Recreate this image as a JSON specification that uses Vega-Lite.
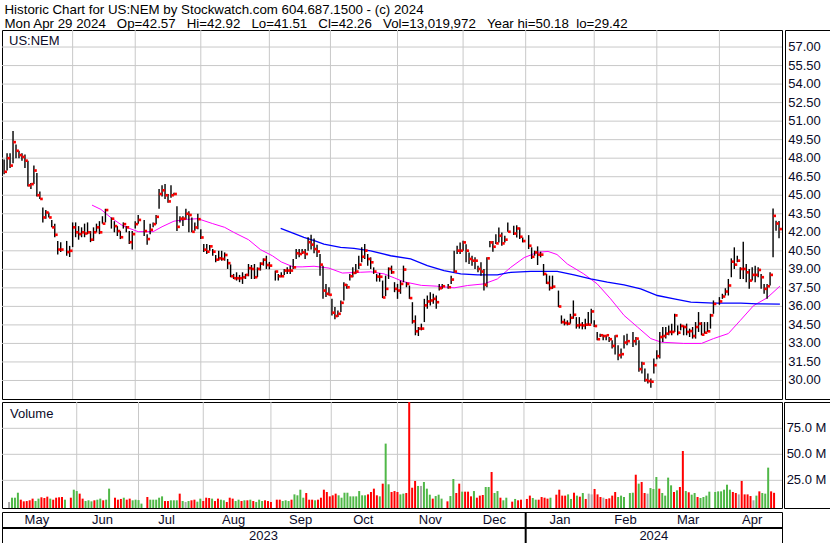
{
"$schema": "https://vega.github.io/schema/vega-lite/v6.json",
"padding": {"left": 0, "top": 3, "right": 0, "bottom": 0},
"background": "white",
"title": {"text": ["Historic Chart for US:NEM by Stockwatch.com 604.687.1500 - (c) 2024", "Mon Apr 29 2024\u00a0\u00a0\u00a0Op=42.57\u00a0\u00a0\u00a0Hi=42.92\u00a0\u00a0\u00a0Lo=41.51\u00a0\u00a0\u00a0Cl=42.26\u00a0\u00a0\u00a0Vol=13,019,972\u00a0\u00a0\u00a0Year hi=50.18\u00a0\u00a0lo=29.42"], "anchor": "start", "frame": "bounds", "font": "Liberation Sans", "fontSize": 13.3, "fontWeight": "normal", "color": "black", "lineHeight": 14, "offset": -1.5, "dx": 4},
"datasets": {
"bars": [
{"i":0,"h":47.9,"l":46.7,"c":46.9,"v":4.2,"d":"n"},
{"i":1,"h":48.4,"l":47.0,"c":48.0,"v":8.3,"d":"u"},
{"i":2,"h":48.4,"l":47.2,"c":47.4,"v":8.3,"d":"u"},
{"i":3,"h":50.2,"l":47.6,"c":49.3,"v":13.1,"d":"u"},
{"i":4,"h":49.1,"l":48.0,"c":48.6,"v":6.4,"d":"d"},
{"i":5,"h":48.6,"l":48.0,"c":48.25,"v":4.8,"d":"d"},
{"i":6,"h":48.4,"l":47.8,"c":48.1,"v":5.1,"d":"d"},
{"i":7,"h":48.3,"l":47.2,"c":47.8,"v":5.8,"d":"d"},
{"i":8,"h":47.8,"l":45.7,"c":45.8,"v":7.4,"d":"d"},
{"i":9,"h":46.0,"l":45.5,"c":45.9,"v":5.1,"d":"u"},
{"i":10,"h":47.4,"l":45.9,"c":47.0,"v":7.4,"d":"u"},
{"i":11,"h":46.8,"l":44.9,"c":45.0,"v":8.7,"d":"d"},
{"i":12,"h":45.3,"l":44.7,"c":44.7,"v":8.0,"d":"d"},
{"i":13,"h":44.0,"l":42.8,"c":43.2,"v":9.3,"d":"d"},
{"i":14,"h":43.8,"l":43.1,"c":43.6,"v":7.4,"d":"u"},
{"i":15,"h":43.6,"l":43.2,"c":43.2,"v":6.4,"d":"d"},
{"i":16,"h":43.0,"l":42.4,"c":42.4,"v":8.3,"d":"d"},
{"i":17,"h":42.7,"l":41.6,"c":41.8,"v":8.7,"d":"d"},
{"i":18,"h":41.3,"l":40.2,"c":40.6,"v":9.0,"d":"d"},
{"i":19,"h":41.2,"l":40.4,"c":40.6,"v":6.4,"d":"u"},
{"i":21,"h":41.3,"l":40.1,"c":40.4,"v":8.3,"d":"d"},
{"i":22,"h":40.9,"l":40.0,"c":40.5,"v":16.0,"d":"u"},
{"i":23,"h":42.8,"l":40.8,"c":42.4,"v":14.7,"d":"u"},
{"i":24,"h":42.8,"l":41.6,"c":42.0,"v":12.2,"d":"d"},
{"i":25,"h":42.5,"l":41.4,"c":41.85,"v":7.4,"d":"d"},
{"i":26,"h":42.4,"l":41.6,"c":42.0,"v":5.1,"d":"u"},
{"i":27,"h":42.7,"l":41.6,"c":41.9,"v":5.8,"d":"u"},
{"i":28,"h":42.8,"l":41.85,"c":42.0,"v":4.8,"d":"u"},
{"i":29,"h":42.1,"l":41.2,"c":41.4,"v":5.8,"d":"d"},
{"i":30,"h":42.4,"l":41.3,"c":42.0,"v":6.4,"d":"u"},
{"i":31,"h":42.7,"l":42.0,"c":42.4,"v":7.4,"d":"u"},
{"i":32,"h":42.9,"l":41.85,"c":42.0,"v":5.8,"d":"d"},
{"i":33,"h":43.3,"l":42.7,"c":42.7,"v":6.4,"d":"u"},
{"i":34,"h":43.9,"l":42.8,"c":43.8,"v":17.0,"d":"u"},
{"i":36,"h":43.2,"l":42.3,"c":43.1,"v":8.3,"d":"d"},
{"i":37,"h":42.9,"l":42.0,"c":42.5,"v":6.4,"d":"d"},
{"i":38,"h":42.5,"l":41.7,"c":42.1,"v":7.1,"d":"d"},
{"i":39,"h":42.1,"l":41.45,"c":41.6,"v":8.3,"d":"u"},
{"i":40,"h":42.8,"l":42.3,"c":42.66,"v":6.4,"d":"d"},
{"i":41,"h":42.5,"l":42.0,"c":42.4,"v":7.4,"d":"d"},
{"i":42,"h":42.1,"l":41.05,"c":41.2,"v":5.8,"d":"u"},
{"i":43,"h":42.1,"l":40.6,"c":41.85,"v":6.4,"d":"u"},
{"i":44,"h":42.9,"l":42.3,"c":42.66,"v":6.0,"d":"u"},
{"i":45,"h":43.4,"l":42.7,"c":43.0,"v":2.6,"d":"u"},
{"i":47,"h":43.0,"l":41.7,"c":42.1,"v":9.0,"d":"d"},
{"i":48,"h":41.85,"l":41.0,"c":41.45,"v":6.4,"d":"u"},
{"i":49,"h":42.7,"l":41.85,"c":42.2,"v":6.4,"d":"u"},
{"i":50,"h":42.8,"l":42.4,"c":42.66,"v":6.4,"d":"u"},
{"i":51,"h":43.4,"l":42.66,"c":43.25,"v":8.3,"d":"u"},
{"i":52,"h":45.5,"l":43.9,"c":45.1,"v":9.6,"d":"u"},
{"i":53,"h":45.8,"l":44.9,"c":45.4,"v":5.1,"d":"d"},
{"i":54,"h":45.9,"l":44.7,"c":45.0,"v":5.1,"d":"d"},
{"i":55,"h":45.1,"l":44.4,"c":44.5,"v":5.8,"d":"u"},
{"i":56,"h":45.8,"l":44.8,"c":45.0,"v":5.8,"d":"u"},
{"i":57,"h":45.2,"l":45.0,"c":45.1,"v":5.8,"d":"u"},
{"i":58,"h":44.1,"l":42.1,"c":42.44,"v":12.2,"d":"d"},
{"i":59,"h":43.3,"l":42.8,"c":43.1,"v":5.1,"d":"u"},
{"i":60,"h":43.3,"l":42.5,"c":43.1,"v":4.2,"d":"n"},
{"i":61,"h":43.9,"l":43.06,"c":43.5,"v":5.1,"d":"u"},
{"i":62,"h":43.7,"l":42.0,"c":43.4,"v":5.8,"d":"d"},
{"i":63,"h":43.2,"l":42.0,"c":42.04,"v":6.4,"d":"d"},
{"i":64,"h":42.8,"l":42.12,"c":42.39,"v":4.5,"d":"u"},
{"i":65,"h":43.5,"l":42.25,"c":43.06,"v":7.4,"d":"u"},
{"i":66,"h":42.25,"l":41.45,"c":41.58,"v":5.1,"d":"d"},
{"i":67,"h":41.05,"l":40.4,"c":40.59,"v":8.3,"d":"d"},
{"i":68,"h":41.05,"l":40.24,"c":40.43,"v":8.0,"d":"d"},
{"i":69,"h":40.97,"l":40.51,"c":40.86,"v":7.4,"d":"u"},
{"i":70,"h":40.64,"l":40.1,"c":40.43,"v":5.1,"d":"d"},
{"i":71,"h":40.16,"l":39.57,"c":39.78,"v":7.4,"d":"d"},
{"i":72,"h":40.5,"l":39.7,"c":39.89,"v":6.4,"d":"u"},
{"i":73,"h":40.5,"l":39.7,"c":39.84,"v":5.8,"d":"u"},
{"i":74,"h":40.37,"l":39.7,"c":40.16,"v":4.2,"d":"d"},
{"i":75,"h":39.84,"l":39.03,"c":39.5,"v":8.3,"d":"d"},
{"i":76,"h":39.4,"l":38.36,"c":38.44,"v":7.4,"d":"d"},
{"i":77,"h":38.63,"l":38.22,"c":38.28,"v":5.1,"d":"u"},
{"i":78,"h":38.76,"l":38.09,"c":38.28,"v":6.4,"d":"u"},
{"i":79,"h":38.55,"l":37.96,"c":38.28,"v":5.1,"d":"d"},
{"i":80,"h":38.76,"l":37.82,"c":38.36,"v":5.8,"d":"u"},
{"i":81,"h":38.63,"l":38.22,"c":38.55,"v":5.8,"d":"d"},
{"i":82,"h":39.43,"l":38.44,"c":39.09,"v":6.4,"d":"u"},
{"i":83,"h":39.35,"l":38.22,"c":39.03,"v":5.1,"d":"d"},
{"i":84,"h":39.43,"l":38.22,"c":38.36,"v":4.2,"d":"u"},
{"i":85,"h":39.16,"l":38.36,"c":39.03,"v":6.4,"d":"u"},
{"i":86,"h":39.57,"l":38.9,"c":39.46,"v":5.1,"d":"u"},
{"i":87,"h":39.89,"l":39.3,"c":39.78,"v":5.8,"d":"d"},
{"i":88,"h":40.1,"l":39.03,"c":39.35,"v":5.1,"d":"d"},
{"i":89,"h":39.6,"l":39.0,"c":39.3,"v":4.2,"d":"d"},
{"i":91,"h":38.9,"l":38.09,"c":38.82,"v":6.4,"d":"d"},
{"i":92,"h":38.63,"l":38.09,"c":38.44,"v":6.4,"d":"d"},
{"i":93,"h":38.76,"l":38.36,"c":38.44,"v":5.1,"d":"u"},
{"i":94,"h":39.03,"l":38.55,"c":38.9,"v":5.8,"d":"u"},
{"i":95,"h":39.16,"l":38.63,"c":38.9,"v":5.1,"d":"u"},
{"i":96,"h":39.3,"l":38.63,"c":38.9,"v":6.4,"d":"d"},
{"i":97,"h":39.84,"l":39.03,"c":39.16,"v":11.5,"d":"u"},
{"i":98,"h":40.64,"l":39.84,"c":40.3,"v":10.6,"d":"u"},
{"i":99,"h":40.64,"l":39.97,"c":40.24,"v":16.0,"d":"u"},
{"i":100,"h":40.64,"l":40.24,"c":40.37,"v":8.3,"d":"u"},
{"i":101,"h":40.64,"l":39.84,"c":40.24,"v":12.8,"d":"d"},
{"i":102,"h":41.6,"l":40.5,"c":41.2,"v":6.4,"d":"d"},
{"i":103,"h":41.8,"l":40.6,"c":41.0,"v":6.4,"d":"d"},
{"i":104,"h":41.5,"l":40.3,"c":40.64,"v":5.8,"d":"u"},
{"i":105,"h":41.0,"l":40.0,"c":40.45,"v":6.4,"d":"d"},
{"i":106,"h":40.24,"l":38.49,"c":39.38,"v":8.3,"d":"d"},
{"i":107,"h":39.3,"l":36.61,"c":37.28,"v":16.0,"d":"d"},
{"i":108,"h":37.82,"l":36.75,"c":37.02,"v":13.8,"d":"d"},
{"i":109,"h":37.55,"l":36.88,"c":36.94,"v":9.6,"d":"d"},
{"i":110,"h":36.61,"l":35.27,"c":35.49,"v":10.6,"d":"d"},
{"i":111,"h":35.94,"l":34.95,"c":35.22,"v":12.2,"d":"d"},
{"i":112,"h":35.67,"l":35.13,"c":35.4,"v":10.6,"d":"u"},
{"i":113,"h":36.48,"l":35.54,"c":36.29,"v":8.3,"d":"u"},
{"i":114,"h":37.96,"l":36.48,"c":37.74,"v":13.1,"d":"u"},
{"i":115,"h":37.82,"l":37.42,"c":37.55,"v":13.1,"d":"u"},
{"i":116,"h":38.63,"l":38.09,"c":38.44,"v":9.6,"d":"u"},
{"i":117,"h":39.16,"l":38.36,"c":38.71,"v":9.6,"d":"u"},
{"i":118,"h":39.43,"l":38.63,"c":38.82,"v":9.6,"d":"u"},
{"i":119,"h":40.1,"l":39.03,"c":39.38,"v":14.7,"d":"u"},
{"i":120,"h":40.78,"l":39.57,"c":40.02,"v":10.6,"d":"u"},
{"i":121,"h":41.05,"l":39.84,"c":40.51,"v":10.6,"d":"u"},
{"i":122,"h":40.24,"l":39.3,"c":39.84,"v":11.5,"d":"d"},
{"i":123,"h":39.97,"l":39.03,"c":39.57,"v":13.8,"d":"d"},
{"i":124,"h":39.16,"l":38.63,"c":38.82,"v":17.0,"d":"d"},
{"i":125,"h":38.63,"l":38.01,"c":38.41,"v":10.6,"d":"d"},
{"i":126,"h":38.7,"l":38.0,"c":38.4,"v":9.6,"d":"u"},
{"i":127,"h":38.09,"l":36.67,"c":36.72,"v":21.8,"d":"d"},
{"i":128,"h":38.49,"l":36.83,"c":37.42,"v":60.3,"d":"u"},
{"i":129,"h":39.16,"l":38.22,"c":39.03,"v":21.2,"d":"u"},
{"i":130,"h":39.3,"l":38.63,"c":38.76,"v":13.8,"d":"d"},
{"i":131,"h":37.96,"l":37.15,"c":37.42,"v":14.7,"d":"d"},
{"i":132,"h":37.82,"l":36.61,"c":37.28,"v":13.8,"d":"d"},
{"i":133,"h":38.09,"l":37.02,"c":37.82,"v":11.5,"d":"u"},
{"i":134,"h":39.3,"l":37.96,"c":38.98,"v":12.2,"d":"u"},
{"i":135,"h":37.96,"l":37.55,"c":37.82,"v":12.8,"d":"d"},
{"i":136,"h":37.69,"l":36.61,"c":36.67,"v":101,"d":"d"},
{"i":137,"h":36.34,"l":34.6,"c":34.79,"v":17.9,"d":"d"},
{"i":138,"h":35.27,"l":33.66,"c":33.98,"v":24.4,"d":"d"},
{"i":139,"h":34.33,"l":33.6,"c":34.2,"v":19.6,"d":"u"},
{"i":140,"h":34.6,"l":34.06,"c":34.2,"v":19.6,"d":"n"},
{"i":141,"h":36.61,"l":34.73,"c":36.08,"v":23.4,"d":"u"},
{"i":142,"h":36.88,"l":35.81,"c":36.4,"v":17.0,"d":"u"},
{"i":143,"h":37.15,"l":36.08,"c":36.48,"v":11.2,"d":"u"},
{"i":144,"h":37.02,"l":36.21,"c":36.61,"v":7.4,"d":"d"},
{"i":145,"h":36.88,"l":35.81,"c":36.34,"v":9.9,"d":"u"},
{"i":146,"h":37.82,"l":37.28,"c":37.47,"v":11.2,"d":"u"},
{"i":147,"h":37.82,"l":37.42,"c":37.63,"v":7.4,"d":"u"},
{"i":149,"h":37.82,"l":37.42,"c":37.55,"v":4.8,"d":"d"},
{"i":150,"h":38.49,"l":37.82,"c":38.17,"v":9.9,"d":"u"},
{"i":151,"h":40.51,"l":38.76,"c":38.82,"v":26.3,"d":"u"},
{"i":152,"h":40.91,"l":40.24,"c":40.51,"v":12.8,"d":"d"},
{"i":153,"h":41.18,"l":40.24,"c":40.51,"v":21.8,"d":"d"},
{"i":154,"h":41.31,"l":40.51,"c":41.18,"v":14.1,"d":"u"},
{"i":155,"h":41.04,"l":39.57,"c":40.51,"v":14.1,"d":"d"},
{"i":156,"h":40.37,"l":39.43,"c":39.84,"v":14.1,"d":"d"},
{"i":157,"h":40.1,"l":39.3,"c":39.7,"v":9.6,"d":"d"},
{"i":158,"h":39.97,"l":39.03,"c":39.7,"v":14.7,"d":"u"},
{"i":159,"h":39.3,"l":38.76,"c":39.03,"v":8.3,"d":"d"},
{"i":160,"h":39.57,"l":38.49,"c":38.82,"v":10.3,"d":"d"},
{"i":161,"h":39.03,"l":37.28,"c":37.74,"v":10.9,"d":"d"},
{"i":162,"h":39.97,"l":37.55,"c":39.89,"v":18.6,"d":"u"},
{"i":163,"h":41.3,"l":40.78,"c":41.18,"v":18.6,"d":"u"},
{"i":164,"h":41.3,"l":40.43,"c":40.83,"v":33.0,"d":"d"},
{"i":165,"h":41.85,"l":41.05,"c":41.1,"v":12.8,"d":"u"},
{"i":166,"h":42.39,"l":41.18,"c":41.72,"v":14.7,"d":"u"},
{"i":167,"h":41.99,"l":40.91,"c":41.1,"v":8.3,"d":"d"},
{"i":168,"h":41.72,"l":41.18,"c":41.4,"v":5.8,"d":"u"},
{"i":169,"h":42.79,"l":42.04,"c":42.04,"v":8.3,"d":"u"},
{"i":171,"h":42.52,"l":41.77,"c":41.9,"v":4.5,"d":"d"},
{"i":172,"h":42.57,"l":41.58,"c":42.31,"v":7.1,"d":"u"},
{"i":173,"h":42.39,"l":41.45,"c":41.64,"v":5.8,"d":"d"},
{"i":174,"h":41.58,"l":41.18,"c":41.29,"v":6.4,"d":"d"},
{"i":176,"h":41.77,"l":40.64,"c":40.91,"v":7.1,"d":"d"},
{"i":177,"h":40.78,"l":39.84,"c":40.02,"v":10.3,"d":"d"},
{"i":178,"h":40.51,"l":40.1,"c":40.37,"v":8.0,"d":"u"},
{"i":179,"h":40.86,"l":39.35,"c":40.19,"v":6.4,"d":"u"},
{"i":180,"h":40.43,"l":39.97,"c":40.19,"v":6.4,"d":"d"},
{"i":181,"h":39.43,"l":38.49,"c":38.63,"v":9.0,"d":"d"},
{"i":182,"h":38.63,"l":37.82,"c":37.9,"v":8.3,"d":"d"},
{"i":183,"h":38.49,"l":37.28,"c":37.5,"v":7.4,"d":"d"},
{"i":184,"h":38.49,"l":37.42,"c":37.6,"v":8.3,"d":"u"},
{"i":186,"h":37.28,"l":35.94,"c":35.99,"v":11.2,"d":"d"},
{"i":187,"h":35.27,"l":34.6,"c":34.73,"v":16.0,"d":"d"},
{"i":188,"h":35.0,"l":34.46,"c":34.65,"v":10.3,"d":"d"},
{"i":189,"h":34.87,"l":34.46,"c":34.6,"v":10.3,"d":"d"},
{"i":190,"h":35.4,"l":34.6,"c":35.08,"v":11.5,"d":"u"},
{"i":191,"h":36.48,"l":35.0,"c":35.32,"v":7.1,"d":"u"},
{"i":192,"h":35.13,"l":34.2,"c":34.46,"v":13.1,"d":"d"},
{"i":193,"h":35.13,"l":34.2,"c":34.5,"v":10.3,"d":"u"},
{"i":194,"h":34.73,"l":34.14,"c":34.46,"v":9.3,"d":"d"},
{"i":195,"h":35.0,"l":34.14,"c":34.52,"v":12.8,"d":"u"},
{"i":196,"h":35.54,"l":34.46,"c":34.52,"v":7.1,"d":"d"},
{"i":197,"h":35.81,"l":34.6,"c":35.59,"v":12.2,"d":"n"},
{"i":198,"h":34.87,"l":34.33,"c":34.41,"v":11.5,"d":"n"},
{"i":199,"h":33.93,"l":33.26,"c":33.34,"v":16.7,"d":"d"},
{"i":200,"h":33.79,"l":33.52,"c":33.66,"v":11.5,"d":"d"},
{"i":201,"h":33.71,"l":33.26,"c":33.6,"v":9.0,"d":"d"},
{"i":202,"h":33.66,"l":33.26,"c":33.66,"v":8.3,"d":"n"},
{"i":203,"h":33.52,"l":33.12,"c":33.34,"v":7.1,"d":"d"},
{"i":204,"h":33.26,"l":32.58,"c":32.8,"v":7.7,"d":"d"},
{"i":205,"h":33.66,"l":32.1,"c":33.6,"v":10.3,"d":"d"},
{"i":206,"h":32.85,"l":31.64,"c":32.05,"v":13.8,"d":"d"},
{"i":207,"h":32.58,"l":31.78,"c":32.13,"v":9.0,"d":"u"},
{"i":208,"h":33.66,"l":32.58,"c":33.07,"v":10.3,"d":"u"},
{"i":209,"h":33.79,"l":32.85,"c":33.18,"v":9.0,"d":"u"},
{"i":211,"h":33.93,"l":32.72,"c":33.18,"v":12.8,"d":"u"},
{"i":212,"h":33.52,"l":32.85,"c":33.39,"v":13.1,"d":"u"},
{"i":213,"h":33.26,"l":30.7,"c":30.92,"v":30.4,"d":"d"},
{"i":214,"h":31.51,"l":30.57,"c":31.37,"v":21.8,"d":"u"},
{"i":215,"h":30.97,"l":29.9,"c":30.03,"v":23.4,"d":"d"},
{"i":216,"h":30.57,"l":29.76,"c":29.95,"v":12.8,"d":"d"},
{"i":217,"h":30.17,"l":29.42,"c":29.9,"v":12.2,"d":"n"},
{"i":218,"h":31.78,"l":30.57,"c":31.24,"v":17.6,"d":"u"},
{"i":219,"h":32.45,"l":31.72,"c":31.97,"v":16.7,"d":"u"},
{"i":220,"h":33.93,"l":31.78,"c":33.52,"v":28.2,"d":"u"},
{"i":221,"h":34.33,"l":33.12,"c":33.6,"v":17.0,"d":"d"},
{"i":222,"h":34.33,"l":33.39,"c":33.79,"v":12.8,"d":"u"},
{"i":223,"h":34.46,"l":33.66,"c":33.93,"v":10.3,"d":"u"},
{"i":224,"h":34.6,"l":33.66,"c":33.93,"v":27.6,"d":"u"},
{"i":225,"h":35.4,"l":33.93,"c":35.27,"v":20.2,"d":"u"},
{"i":226,"h":34.46,"l":33.66,"c":33.87,"v":13.8,"d":"d"},
{"i":227,"h":34.6,"l":34.06,"c":34.41,"v":15.4,"d":"u"},
{"i":228,"h":34.46,"l":33.66,"c":34.33,"v":18.6,"d":"d"},
{"i":229,"h":34.6,"l":33.66,"c":33.93,"v":53.2,"d":"d"},
{"i":230,"h":34.2,"l":33.52,"c":34.0,"v":14.7,"d":"u"},
{"i":231,"h":34.33,"l":33.39,"c":33.6,"v":13.5,"d":"d"},
{"i":232,"h":34.73,"l":33.39,"c":34.33,"v":11.2,"d":"u"},
{"i":233,"h":35.54,"l":33.93,"c":34.6,"v":12.8,"d":"u"},
{"i":234,"h":34.73,"l":33.66,"c":33.71,"v":9.0,"d":"d"},
{"i":235,"h":34.73,"l":33.79,"c":33.87,"v":8.0,"d":"u"},
{"i":236,"h":34.73,"l":33.93,"c":33.98,"v":9.0,"d":"u"},
{"i":237,"h":35.4,"l":34.2,"c":35.27,"v":10.3,"d":"u"},
{"i":238,"h":36.48,"l":35.4,"c":36.2,"v":14.1,"d":"u"},
{"i":240,"h":36.75,"l":36.13,"c":36.4,"v":13.8,"d":"u"},
{"i":241,"h":37.02,"l":36.61,"c":36.8,"v":14.4,"d":"u"},
{"i":242,"h":37.47,"l":36.88,"c":37.2,"v":14.4,"d":"u"},
{"i":243,"h":38.22,"l":36.88,"c":37.69,"v":16.0,"d":"u"},
{"i":244,"h":39.89,"l":38.36,"c":39.62,"v":20.8,"d":"u"},
{"i":245,"h":40.78,"l":39.03,"c":39.38,"v":16.0,"d":"u"},
{"i":246,"h":40.1,"l":39.57,"c":39.7,"v":13.8,"d":"d"},
{"i":247,"h":39.16,"l":38.22,"c":39.03,"v":12.8,"d":"d"},
{"i":248,"h":41.23,"l":38.22,"c":39.03,"v":11.5,"d":"n"},
{"i":249,"h":39.43,"l":37.96,"c":38.76,"v":24.4,"d":"d"},
{"i":250,"h":39.03,"l":37.42,"c":38.09,"v":11.5,"d":"d"},
{"i":251,"h":39.16,"l":38.09,"c":38.55,"v":11.5,"d":"d"},
{"i":252,"h":39.3,"l":37.96,"c":38.55,"v":9.9,"d":"d"},
{"i":253,"h":39.16,"l":38.36,"c":38.95,"v":5.8,"d":"n"},
{"i":254,"h":38.63,"l":37.42,"c":38.36,"v":10.3,"d":"u"},
{"i":255,"h":37.82,"l":37.02,"c":37.42,"v":14.4,"d":"d"},
{"i":256,"h":37.82,"l":36.61,"c":37.63,"v":12.8,"d":"u"},
{"i":257,"h":38.76,"l":37.69,"c":38.55,"v":12.2,"d":"u"},
{"i":258,"h":43.92,"l":39.97,"c":43.33,"v":37.2,"d":"u"},
{"i":259,"h":42.93,"l":42.12,"c":42.71,"v":14.4,"d":"d"},
{"i":260,"h":42.92,"l":41.51,"c":42.26,"v":13.0,"d":"d"}
],
"mag": [
{"i":29.5,"v":44.2},{"i":32.5,"v":43.85},{"i":36,"v":43.15},{"i":40,"v":42.5},{"i":45,"v":42.05},{"i":50,"v":42.05},{"i":53,"v":42.45},{"i":57,"v":42.9},{"i":61.5,"v":43.05},{"i":65,"v":43.1},{"i":70,"v":42.7},{"i":74,"v":42.4},{"i":77,"v":42.0},{"i":82,"v":41.4},{"i":86,"v":40.6},{"i":90,"v":40.1},{"i":93,"v":39.6},{"i":97,"v":39.2},{"i":100,"v":39.2},{"i":104,"v":39.25},{"i":109,"v":39.1},{"i":113.5,"v":38.7},{"i":119.5,"v":38.76},{"i":123,"v":38.8},{"i":127.5,"v":38.63},{"i":131,"v":38.3},{"i":134,"v":38.0},{"i":140,"v":37.7},{"i":145,"v":37.64},{"i":151,"v":37.5},{"i":155.5,"v":37.69},{"i":161,"v":37.82},{"i":165.5,"v":38.22},{"i":170,"v":39.16},{"i":174.5,"v":39.95},{"i":179,"v":40.38},{"i":182.5,"v":40.45},{"i":185.5,"v":40.2},{"i":189,"v":39.43},{"i":194.5,"v":38.63},{"i":199,"v":37.82},{"i":203.5,"v":36.61},{"i":208,"v":35.27},{"i":212.5,"v":34.33},{"i":217,"v":33.39},{"i":220.5,"v":33.1},{"i":228,"v":33.0},{"i":234,"v":33.0},{"i":238,"v":33.39},{"i":243,"v":33.8},{"i":247,"v":34.86},{"i":251.5,"v":36.07},{"i":256,"v":36.69},{"i":260.3,"v":37.64}
],
"blu": [
{"i":92.8,"v":42.31},{"i":97.8,"v":41.85},{"i":100.6,"v":41.58},{"i":104.3,"v":41.31},{"i":107.3,"v":41.04},{"i":112.9,"v":40.78},{"i":117.4,"v":40.7},{"i":123,"v":40.5},{"i":129.7,"v":40.1},{"i":136.4,"v":39.84},{"i":142,"v":39.3},{"i":147.6,"v":38.9},{"i":153.2,"v":38.63},{"i":158.8,"v":38.55},{"i":165.5,"v":38.55},{"i":170,"v":38.76},{"i":176.7,"v":38.84},{"i":185.6,"v":38.84},{"i":191.2,"v":38.55},{"i":196.8,"v":38.22},{"i":202.4,"v":37.96},{"i":208,"v":37.74},{"i":213.6,"v":37.42},{"i":219.2,"v":36.88},{"i":224.8,"v":36.61},{"i":230.4,"v":36.34},{"i":238.2,"v":36.27},{"i":247.2,"v":36.27},{"i":252.8,"v":36.21},{"i":260.3,"v":36.19}
],
"pgrid": [{"p":30},{"p":31.5},{"p":33},{"p":34.5},{"p":36},{"p":37.5},{"p":39},{"p":40.5},{"p":42},{"p":43.5},{"p":45},{"p":46.5},{"p":48},{"p":49.5},{"p":51},{"p":52.5},{"p":54},{"p":55.5},{"p":57}],
"vgrid": [{"v":25,"t":"25.0 M"},{"v":50,"t":"50.0 M"},{"v":75,"t":"75.0 M"}],
"mgrid": [{"i":23},{"i":44},{"i":66},{"i":89},{"i":109.5},{"i":132},{"i":154},{"i":175},{"i":198},{"i":219},{"i":240}],
"months": [{"m":"May","i":11},{"m":"Jun","i":33},{"m":"Jul","i":54.5},{"m":"Aug","i":77},{"m":"Sep","i":99.5},{"m":"Oct","i":120.5},{"m":"Nov","i":143},{"m":"Dec","i":164.5},{"m":"Jan","i":186.5},{"m":"Feb","i":208.5},{"m":"Mar","i":229.5},{"m":"Apr","i":251}],
"years": [{"y":"2023","i":87},{"y":"2024","i":218}],
"ysep": [{"i":175}],
"hsep": [{"r":1}]
},
"spacing": 1,
"vconcat": [
{
"spacing": 0,
"hconcat": [
{
"width": 780, "height": 369,
"title": {"text": "US:NEM", "anchor": "start", "frame": "group", "orient": "top", "offset": -18, "dx": 7, "fontSize": 13, "fontWeight": "normal", "font": "Liberation Sans", "color": "#0a0a28"},
"layer": [
{"data": {"name": "pgrid"}, "mark": {"type": "rule", "color": "#c8c8c8", "strokeWidth": 1},
 "encoding": {"y": {"field": "p", "type": "quantitative", "scale": {"domain": [28.5, 58.38], "nice": false, "zero": false}, "axis": null}}},
{"data": {"name": "mgrid"}, "mark": {"type": "rule", "color": "#c8c8c8", "strokeWidth": 1},
 "encoding": {"x": {"field": "i", "type": "quantitative", "scale": {"domain": [-0.7, 261.0], "nice": false, "zero": false}, "axis": null}}},
{"data": {"name": "mag"}, "mark": {"type": "line", "color": "#ff00ff", "strokeWidth": 1},
 "encoding": {"x": {"field": "i", "type": "quantitative", "axis": null}, "y": {"field": "v", "type": "quantitative", "axis": null}}},
{"data": {"name": "blu"}, "mark": {"type": "line", "color": "#0000ff", "strokeWidth": 1.3},
 "encoding": {"x": {"field": "i", "type": "quantitative", "axis": null}, "y": {"field": "v", "type": "quantitative", "axis": null}}},
{"data": {"name": "bars"}, "mark": {"type": "rule", "color": "black", "strokeWidth": 1.4},
 "encoding": {"x": {"field": "i", "type": "quantitative", "axis": null}, "y": {"field": "l", "type": "quantitative", "axis": null}, "y2": {"field": "h"}}},
{"data": {"name": "bars"}, "mark": {"type": "square", "color": "#ff0000", "size": 7, "opacity": 1, "filled": true, "xOffset": 1.6},
 "encoding": {"x": {"field": "i", "type": "quantitative", "axis": null}, "y": {"field": "c", "type": "quantitative", "axis": null}}}
]
},
{
"width": 47, "height": 369,
"data": {"name": "pgrid"},
"mark": {"type": "text", "font": "Liberation Sans", "fontSize": 13, "color": "#0a0a28", "align": "center", "baseline": "middle", "dx": -4},
"encoding": {"y": {"field": "p", "type": "quantitative", "scale": {"domain": [28.5, 58.38], "nice": false, "zero": false}, "axis": null}, "text": {"field": "p", "type": "quantitative", "format": ".2f"}}
}
]
},
{
"spacing": 0,
"hconcat": [
{
"width": 780, "height": 106,
"title": {"text": "Volume", "anchor": "start", "frame": "group", "orient": "top", "offset": -19, "dx": 8, "fontSize": 13, "fontWeight": "normal", "font": "Liberation Sans", "color": "#0a0a28"},
"layer": [
{"data": {"name": "vgrid"}, "mark": {"type": "rule", "color": "#c8c8c8", "strokeWidth": 1},
 "encoding": {"y": {"field": "v", "type": "quantitative", "scale": {"domain": [-1.6, 100.3], "nice": false, "zero": false}, "axis": null}}},
{"data": {"name": "mgrid"}, "mark": {"type": "rule", "color": "#c8c8c8", "strokeWidth": 1},
 "encoding": {"x": {"field": "i", "type": "quantitative", "scale": {"domain": [-0.7, 261.0], "nice": false, "zero": false}, "axis": null}}},
{"data": {"name": "bars"}, "mark": {"type": "bar", "size": 2, "clip": true},
 "encoding": {"x": {"field": "i", "type": "quantitative", "axis": null},
  "y": {"field": "v", "type": "quantitative", "axis": null}, "y2": {"datum": -1.6},
  "color": {"field": "d", "type": "nominal", "scale": {"domain": ["u", "d", "n"], "range": ["#50b848", "#ff0000", "#a8a8a8"]}, "legend": null}}}
]
},
{
"width": 47, "height": 106,
"data": {"name": "vgrid"},
"mark": {"type": "text", "font": "Liberation Sans", "fontSize": 13, "color": "#0a0a28", "align": "center", "baseline": "middle", "dx": -1},
"encoding": {"y": {"field": "v", "type": "quantitative", "scale": {"domain": [-1.6, 100.3], "nice": false, "zero": false}, "axis": null}, "text": {"field": "t"}}
}
]
},
{
"width": 780, "height": 32,
"layer": [
{"data": {"name": "hsep"}, "mark": {"type": "rule", "color": "black", "strokeWidth": 2},
 "encoding": {"y": {"field": "r", "type": "quantitative", "scale": {"domain": [0, 2], "nice": false, "zero": false}, "axis": null}}},
{"data": {"name": "ysep"}, "mark": {"type": "rule", "color": "black", "strokeWidth": 2},
 "encoding": {"x": {"field": "i", "type": "quantitative", "scale": {"domain": [-0.7, 261.0], "nice": false, "zero": false}, "axis": null}}},
{"data": {"name": "months"}, "mark": {"type": "text", "font": "Liberation Sans", "fontSize": 13, "color": "#0a0a28", "baseline": "middle", "align": "center"},
 "encoding": {"x": {"field": "i", "type": "quantitative", "axis": null}, "y": {"datum": 1.5, "type": "quantitative", "axis": null}, "text": {"field": "m"}}},
{"data": {"name": "years"}, "mark": {"type": "text", "font": "Liberation Sans", "fontSize": 13, "color": "#0a0a28", "baseline": "middle", "align": "center"},
 "encoding": {"x": {"field": "i", "type": "quantitative", "axis": null}, "y": {"datum": 0.5, "type": "quantitative", "axis": null}, "text": {"field": "y"}}}
]
}
],
"config": {"view": {"stroke": "black", "strokeWidth": 1}, "font": "Liberation Sans"}
}
